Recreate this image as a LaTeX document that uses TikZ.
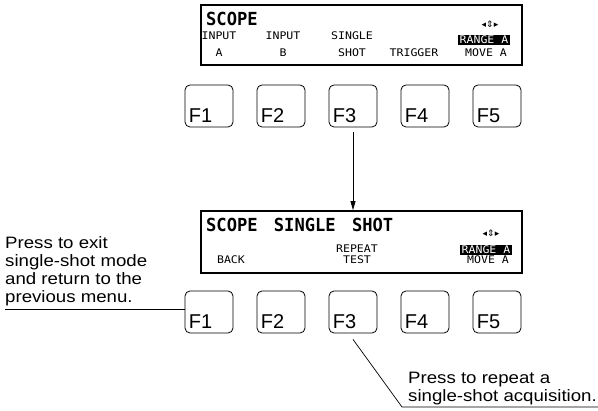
\documentclass[tikz,border=0pt]{standalone}
\usepackage{fontspec}
\setmainfont{Liberation Sans}
\newfontfamily\notefont{Liberation Sans}[FakeStretch=1.13]
\newfontfamily\lcdfont{DejaVu Sans Mono}[FakeStretch=1.1]
\newfontfamily\lcdtitlefont{DejaVu Sans Mono}[FakeStretch=0.95]
\newfontfamily\symfont{DejaVu Sans}
\usetikzlibrary{arrows.meta}

\begin{document}
\begin{tikzpicture}[x=1pt, y=-1pt,
    screen/.style={draw, line width=1.8pt, minimum width=321pt, inner sep=0pt},
    fkey/.style={draw, line width=0.8pt, rounded corners=5pt, minimum width=48pt, minimum height=42pt, inner sep=0pt},
    fname/.style={anchor=base west, inner sep=0pt, font=\fontsize{20}{20}\selectfont},
    lcdtitle/.style={anchor=base west, inner sep=0pt, font=\lcdtitlefont\bfseries\fontsize{18}{18}\selectfont},
    lcdlbl/.style={anchor=base, inner sep=0pt, font=\lcdfont\fontsize{10.5}{10.5}\selectfont},
    lcdinv/.style={lcdlbl, fill=black, text=white, inner xsep=1.5pt, inner ysep=1.2pt},
    lcdsym/.style={inner sep=0pt, font=\symfont\fontsize{9}{9}\selectfont},
    note/.style={align=left, inner sep=0pt, font=\notefont\fontsize{16.5}{18}\selectfont},
    lead/.style={line width=0.7pt}]
    \useasboundingbox (0,0) rectangle (598,411);

    % the two screens
    \node[screen, minimum height=60pt] (scr1) at (361.5,35) {};
    \node[screen, minimum height=62pt] (scr2) at (361.5,242) {};

    % top screen
    \node[lcdtitle] (title1) at (206,26) {SCOPE};
    \node[lcdsym] (sym1) at (490,24) {◂⇕▸};
    \foreach \xx/\la/\lb [count=\i] in {219/INPUT/A, 283/INPUT/B, 352/SINGLE/SHOT} {
        \node[lcdlbl] (upa\i) at (\xx,40) {\la};
        \node[lcdlbl] (upb\i) at (\xx,57) {\lb};
    }
    \node[lcdlbl] (upb4) at (414,57) {TRIGGER};
    \node[lcdinv] (upa5) at (484,44) {RANGE A};
    \node[lcdlbl] (upb5) at (486,57) {MOVE A};

    % bottom screen
    \node[lcdtitle] (title2) at (206,232) {SCOPE\hspace{6pt} SINGLE\hspace{6pt} SHOT};
    \node[lcdsym] (sym2) at (491,233) {◂⇕▸};
    \node[lcdlbl] (lob1) at (231,264) {BACK};
    \node[lcdlbl] (loa3) at (357,253) {REPEAT};
    \node[lcdlbl] (lob3) at (357,264) {TEST};
    \node[lcdinv] (loa5) at (486,253.5) {RANGE A};
    \node[lcdlbl] (lob5) at (488,264) {MOVE A};

    % function keys
    \foreach \k [count=\i from 0] in {1,...,5} {
        \node[fkey] (upkey\k) at (209+72*\i,106) {};
        \node[fname] (upname\k) at ([xshift=4pt,yshift=5pt]upkey\k.south west) {F\k};
        \node[fkey] (lokey\k) at (209+72*\i,312) {};
        \node[fname] (loname\k) at ([xshift=4pt,yshift=5pt]lokey\k.south west) {F\k};
    }

    \draw[line width=0.8pt, -{Triangle[length=9pt,width=5pt]}] ([yshift=-5pt]upkey3.south) -- (upkey3.south |- scr2.north);

    % callouts
    \coordinate (lead1) at (5,309);
    \node[note, anchor=south west] (note1) at (5,306) {Press to exit\\single-shot mode\\and return to the\\previous menu.};
    \draw[lead] (lead1) -- (lead1 -| lokey1.west);

    \coordinate (bend2) at (402,407);
    \coordinate (end2) at (598,407);
    \node[note, anchor=south west] (note2) at (408,405) {Press to repeat a\\single-shot acquisition.};
    \draw[lead] ([yshift=-6pt]lokey3.south) -- (bend2) -- (end2);
\end{tikzpicture}
\end{document}
